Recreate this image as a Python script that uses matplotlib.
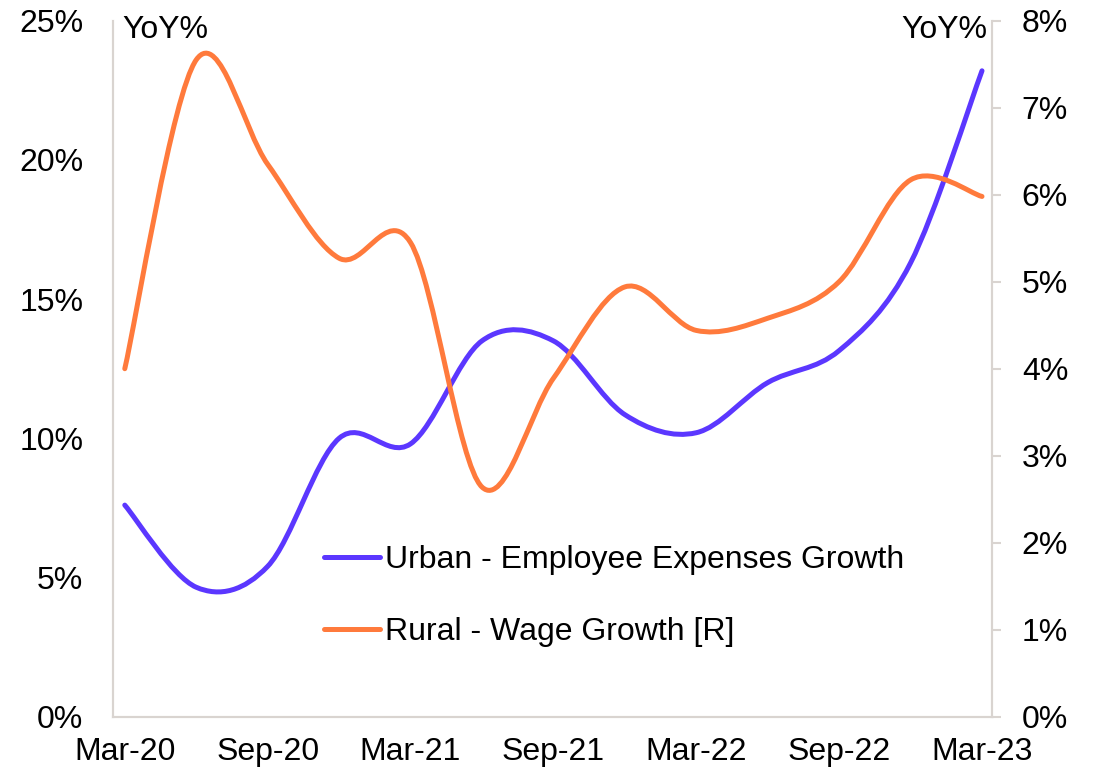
import matplotlib
matplotlib.use('Agg')
import matplotlib.pyplot as plt  # noqa: E402
from matplotlib.path import Path  # noqa: E402
from matplotlib.patches import PathPatch  # noqa: E402
from matplotlib.lines import Line2D  # noqa: E402
import numpy as np  # noqa: E402

# ------------------------------------------------------------------
# Data (quarterly, YoY %)
# ------------------------------------------------------------------
quarters = ['Mar-20', 'Jun-20', 'Sep-20', 'Dec-20', 'Mar-21', 'Jun-21', 'Sep-21',
            'Dec-21', 'Mar-22', 'Jun-22', 'Sep-22', 'Dec-22', 'Mar-23']
tick_labels = ['Mar-20', 'Sep-20', 'Mar-21', 'Sep-21', 'Mar-22', 'Sep-22', 'Mar-23']
urban_growth = [7.6, 4.65, 5.4, 10.0, 9.8, 13.5, 13.5, 10.85, 10.2, 12.0, 13.15, 16.3, 23.2]
rural_wage_growth = [4.0, 7.55, 6.35, 5.27, 5.45, 2.64, 3.89, 4.94, 4.44, 4.58, 5.0, 6.17, 5.98]

BLUE = '#5b37ff'
ORANGE = '#ff7a3c'
SPINE = '#d9d4d0'
FONT = 23

plt.rcParams['font.family'] = ['Liberation Sans', 'DejaVu Sans']


def smooth_path(xs, ys):
    """Excel-style smoothed line: cubic Bezier segments with Catmull-Rom handles."""
    pts = np.column_stack([xs, ys]).astype(float)
    ext = np.vstack([pts[0], pts, pts[-1]])
    verts = [pts[0]]
    codes = [Path.MOVETO]
    for i in range(len(pts) - 1):
        p0, p1, p2, p3 = ext[i], ext[i + 1], ext[i + 2], ext[i + 3]
        verts += [p1 + (p2 - p0) / 6.0, p2 - (p3 - p1) / 6.0, p2]
        codes += [Path.CURVE4] * 3
    return Path(verts, codes)


x = np.arange(len(quarters))

fig = plt.figure(figsize=(10.94, 7.72), dpi=100)
ax = fig.add_axes([113 / 1094, 1 - 716.7 / 772, 879 / 1094, 696 / 772])
ax2 = ax.twinx()

ax.add_patch(PathPatch(smooth_path(x, urban_growth), fill=False, edgecolor=BLUE,
                       lw=3.6, capstyle='round', joinstyle='round'))
ax2.add_patch(PathPatch(smooth_path(x, rural_wage_growth), fill=False, edgecolor=ORANGE,
                        lw=3.6, capstyle='round', joinstyle='round'))

ax.set_xlim(-0.165, 12.14)
ax.set_ylim(0, 25)
ax2.set_ylim(0, 8)

ax.set_xticks(np.arange(0, 13, 2))
ax.set_xticklabels(tick_labels)
ax.set_yticks(np.arange(0, 26, 5))
ax.set_yticklabels([f'{v}%' for v in range(0, 26, 5)])
ax2.set_yticks(np.arange(0, 9, 1))
ax2.set_yticklabels([f'{v}%' for v in range(0, 9)])

# pads are in points (dpi 100 -> 1 px = 0.72 pt)
ax.tick_params(axis='x', length=0, pad=14.5, labelsize=FONT)
ax.tick_params(axis='y', length=0, pad=21.5, labelsize=FONT)
ax2.tick_params(axis='y', length=6.5, width=1.5, color=SPINE, pad=15, labelsize=FONT)

for a in (ax, ax2):
    a.spines['top'].set_visible(False)
    for s in ('left', 'right', 'bottom'):
        a.spines[s].set_color(SPINE)
        a.spines[s].set_linewidth(1.5)

fig.text(122 / 1094, 1 - 37.7 / 772, 'YoY%', fontsize=FONT, ha='left', va='baseline')
fig.text(987 / 1094, 1 - 37.7 / 772, 'YoY%', fontsize=FONT, ha='right', va='baseline')

handles = [Line2D([], [], color=BLUE, lw=3.6, solid_capstyle='round'),
           Line2D([], [], color=ORANGE, lw=3.6, solid_capstyle='round')]
fig.legend(handles, ['Urban - Employee Expenses Growth', 'Rural - Wage Growth [R]'],
           loc='upper left', bbox_to_anchor=(324 / 1094, 1 - 545 / 772),
           frameon=False, fontsize=FONT, borderpad=0, borderaxespad=0,
           handlelength=1.75, handletextpad=0.16, labelspacing=1.32)

fig.savefig('out.png', dpi=100)
